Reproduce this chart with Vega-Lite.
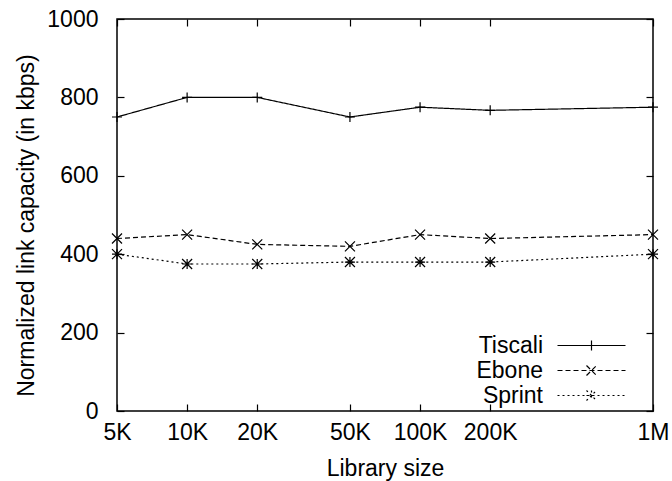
{
  "$schema": "https://vega.github.io/schema/vega-lite/v6.json",
  "width": 536,
  "height": 392,
  "autosize": {"type": "none"},
  "padding": {"left": 117, "top": 19, "right": 19, "bottom": 70},
  "background": "white",
  "data": {
    "values": [
      {"size": 5000, "capacity": 750, "network": "Tiscali"},
      {"size": 10000, "capacity": 800, "network": "Tiscali"},
      {"size": 20000, "capacity": 800, "network": "Tiscali"},
      {"size": 50000, "capacity": 750, "network": "Tiscali"},
      {"size": 100000, "capacity": 775, "network": "Tiscali"},
      {"size": 200000, "capacity": 767, "network": "Tiscali"},
      {"size": 1000000, "capacity": 775, "network": "Tiscali"},
      {"size": 5000, "capacity": 440, "network": "Ebone"},
      {"size": 10000, "capacity": 450, "network": "Ebone"},
      {"size": 20000, "capacity": 425, "network": "Ebone"},
      {"size": 50000, "capacity": 420, "network": "Ebone"},
      {"size": 100000, "capacity": 450, "network": "Ebone"},
      {"size": 200000, "capacity": 440, "network": "Ebone"},
      {"size": 1000000, "capacity": 450, "network": "Ebone"},
      {"size": 5000, "capacity": 400, "network": "Sprint"},
      {"size": 10000, "capacity": 375, "network": "Sprint"},
      {"size": 20000, "capacity": 375, "network": "Sprint"},
      {"size": 50000, "capacity": 380, "network": "Sprint"},
      {"size": 100000, "capacity": 380, "network": "Sprint"},
      {"size": 200000, "capacity": 380, "network": "Sprint"},
      {"size": 1000000, "capacity": 400, "network": "Sprint"}
    ]
  },
  "resolve": {"axis": {"x": "independent", "y": "independent"}},
  "layer": [
    {
      "mark": {"type": "line", "color": "black", "strokeWidth": 1.2},
      "encoding": {
        "x": {
          "field": "size", "type": "quantitative",
          "scale": {"type": "log", "domain": [5000, 1000000], "nice": false, "zero": false},
          "axis": {
            "orient": "bottom",
            "values": [5000, 10000, 20000, 50000, 100000, 200000, 1000000],
            "labelExpr": "datum.value >= 1000000 ? '1M' : (datum.value / 1000) + 'K'",
            "title": "Library size",
            "titleY": 64,
            "titleBaseline": "alphabetic",
            "labelPadding": 17,
            "labelBaseline": "top",
            "labelFlush": false,
            "labelOverlap": false
          }
        },
        "y": {
          "field": "capacity", "type": "quantitative",
          "scale": {"domain": [0, 1000], "nice": false},
          "axis": {
            "orient": "left",
            "values": [0, 200, 400, 600, 800, 1000],
            "format": "d",
            "title": "Normalized link capacity (in kbps)",
            "titleX": -91,
            "titleY": 206,
            "titleAngle": 270,
            "titleAlign": "center",
            "titleBaseline": "middle",
            "labelPadding": 26,
            "labelAlign": "right",
            "labelBaseline": "middle"
          }
        },
        "strokeDash": {
          "field": "network", "type": "nominal",
          "scale": {"domain": ["Tiscali", "Ebone", "Sprint"], "range": [[1, 0], [5, 3], [2, 3]]},
          "legend": {
            "title": null,
            "orient": "none",
            "legendX": 463,
            "legendY": 315,
            "padding": 0,
            "rowPadding": 1,
            "symbolSize": 100,
            "symbolStrokeWidth": 1.2,
            "symbolStrokeColor": "black",
            "labelFont": "Liberation Sans",
            "labelFontSize": 23,
            "labelColor": "black",
            "labelAlign": "right",
            "labelBaseline": "middle",
            "labelOffset": -60,
            "labelLimit": 300,
            "encode": {
              "symbols": {
                "update": {
                  "shape": {"signal": "datum.value === 'Tiscali' ? 'M-6.8,0H6.8M0,-1V1' : datum.value === 'Ebone' ? 'M-6.8,0H6.8M-1,-1L1,1M-1,1L1,-1' : 'M-6.8,0H6.8M-1,0H1M0,-1V1M-1,-1L1,1M-1,1L1,-1'"},
                  "fill": {"value": "transparent"},
                  "stroke": {"value": "black"},
                  "strokeWidth": {"value": 1.2}
                }
              }
            }
          }
        }
      }
    },
    {
      "mark": {"type": "point", "filled": false, "stroke": "black", "strokeWidth": 1.2, "size": 100, "opacity": 1},
      "encoding": {
        "x": {
          "field": "size", "type": "quantitative",
          "scale": {"type": "log", "domain": [5000, 1000000], "nice": false, "zero": false},
          "axis": {
            "orient": "top",
            "values": [5000, 10000, 20000, 50000, 100000, 200000, 1000000],
            "labels": false,
            "title": null
          }
        },
        "y": {
          "field": "capacity", "type": "quantitative",
          "scale": {"domain": [0, 1000], "nice": false},
          "axis": {
            "orient": "right",
            "values": [0, 200, 400, 600, 800, 1000],
            "labels": false,
            "title": null
          }
        },
        "shape": {
          "field": "network", "type": "nominal",
          "scale": {
            "domain": ["Ebone", "Sprint", "Tiscali"],
            "range": ["M-1,-1L1,1M-1,1L1,-1", "M-1,0H1M0,-1V1M-1,-1L1,1M-1,1L1,-1", "M-1,0H1M0,-1V1"]
          },
          "legend": null
        }
      }
    }
  ],
  "config": {
    "font": "Liberation Sans",
    "view": {"stroke": "black", "strokeWidth": 1.5},
    "axis": {
      "grid": false,
      "domain": false,
      "ticks": true,
      "tickSize": -7,
      "tickColor": "black",
      "tickWidth": 1.2,
      "labelFont": "Liberation Sans",
      "labelFontSize": 23,
      "labelColor": "black",
      "titleFont": "Liberation Sans",
      "titleFontSize": 23,
      "titleFontWeight": "normal",
      "titleColor": "black"
    }
  }
}
